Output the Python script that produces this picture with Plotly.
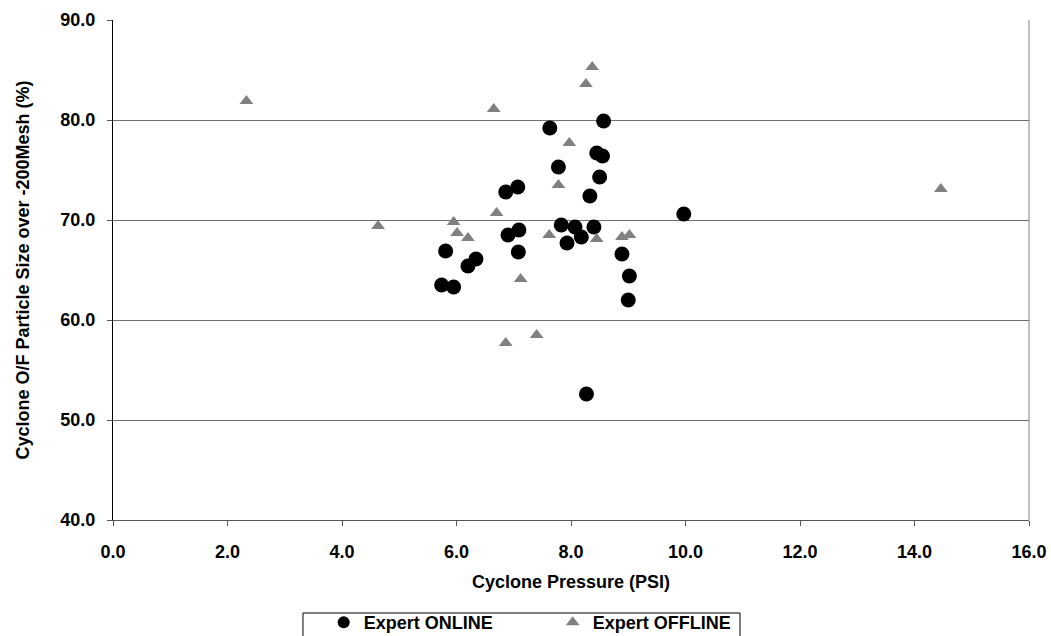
import plotly.graph_objects as go

# Expert ONLINE (circles)
online_x = [7.63, 8.57, 8.45, 8.55, 7.78, 8.50, 8.33, 6.86, 7.07, 9.97,
            7.83, 8.07, 8.18, 7.93, 8.40, 6.90, 7.09, 5.81, 7.08, 6.20,
            6.34, 5.74, 5.95, 8.89, 9.02, 9.00, 8.27]
online_y = [79.2, 79.9, 76.7, 76.4, 75.3, 74.3, 72.4, 72.8, 73.3, 70.6,
            69.5, 69.3, 68.3, 67.7, 69.3, 68.5, 69.0, 66.9, 66.8, 65.4,
            66.1, 63.5, 63.3, 66.6, 64.4, 62.0, 52.6]

# Expert OFFLINE (triangles)
offline_x = [2.33, 4.63, 14.46, 8.37, 8.26, 6.65, 7.97, 7.78, 6.70, 5.95,
             6.01, 6.20, 7.62, 8.45, 8.89, 9.02, 7.12, 7.40, 6.86]
offline_y = [81.9, 69.4, 73.1, 85.3, 83.6, 81.1, 77.7, 73.5, 70.7, 69.8,
             68.7, 68.2, 68.5, 68.1, 68.3, 68.5, 64.1, 58.5, 57.7]

x_range = [0, 16]
y_range = [40, 90]

FONT = "Liberation Sans"
fs = 18

fig = go.Figure()
fig.add_trace(go.Scatter(
    x=online_x, y=online_y, mode="markers", name="Expert ONLINE",
    marker=dict(symbol="circle", size=15, color="black"),
))
fig.add_trace(go.Scatter(
    x=offline_x, y=offline_y, mode="markers", name="Expert OFFLINE",
    marker=dict(symbol="triangle-up", size=12, color="#808080"),
))

fig.update_layout(
    width=1051, height=636, autosize=False,
    margin=dict(l=113, r=22, t=20, b=116, autoexpand=False),
    paper_bgcolor="white", plot_bgcolor="white",
    font=dict(family=FONT, color="black", size=fs),
    showlegend=True,
    legend=dict(
        orientation="h", x=0.23, xanchor="left", xref="paper",
        y=-0.168, yanchor="top",
        borderwidth=0, bgcolor="rgba(0,0,0,0)",
        font=dict(family=FONT, size=fs, color="black", weight="bold"),
        entrywidth=184, itemsizing="constant",
    ),
    xaxis=dict(
        range=x_range, dtick=2, tick0=0, tickformat=".1f",
        showgrid=False, zeroline=False,
        showline=True, linecolor="#555555", linewidth=1,
        ticks="outside", ticklen=5, tickcolor="#555555",
        ticklabelstandoff=10,
        tickfont=dict(family=FONT, size=fs, color="black", weight="bold"),
        title=dict(text="<b>Cyclone Pressure (PSI)</b>", font=dict(family=FONT, size=fs), standoff=14),
    ),
    yaxis=dict(
        range=y_range, dtick=10, tick0=40, tickformat=".1f",
        showgrid=True, gridcolor="#707070", gridwidth=1, zeroline=False,
        showline=True, linecolor="black", linewidth=1,
        ticks="outside", ticklen=5, tickcolor="#555555",
        ticklabelstandoff=8,
        tickfont=dict(family=FONT, size=fs, color="black", weight="bold"),
        title=dict(text="<b>Cyclone O/F Particle Size over -200Mesh (%)</b>", font=dict(family=FONT, size=fs), standoff=26),
    ),
    shapes=[
        dict(type="line", xref="paper", yref="paper", x0=1, x1=1, y0=0, y1=1,
             line=dict(color="#808080", width=1)),
        dict(type="rect", xref="paper", yref="paper", x0=0.2074, x1=0.6845,
             y0=-0.186, y1=-0.3, line=dict(color="black", width=1)),
    ],
)

fig.write_html("out.html", config={"displayModeBar": False},
               post_script="document.body.style.margin='0px';document.body.style.overflow='hidden';")
